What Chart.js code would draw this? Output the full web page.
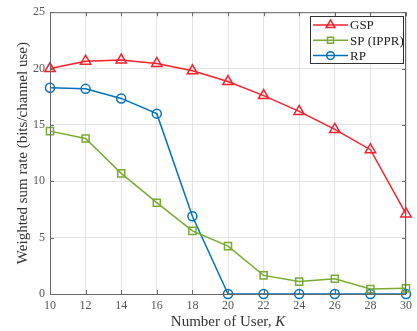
<!DOCTYPE html>
<html>
<head>
<meta charset="utf-8">
<script src="https://cdn.jsdelivr.net/npm/chart.js@4"></script>
<style>
  html, body { margin: 0; padding: 0; background: #fff; }
  #wrap { width: 417px; height: 331px; }
</style>
</head>
<body>
<div id="wrap"><canvas id="chart" width="417" height="331"></canvas></div>
<script>
var users = [10, 12, 14, 16, 18, 20, 22, 24, 26, 28, 30];
var gsp = [20.0, 20.65, 20.75, 20.45, 19.8, 18.85, 17.6, 16.2, 14.6, 12.8, 7.1];
var sp = [14.45, 13.8, 10.7, 8.1, 5.6, 4.25, 1.65, 1.1, 1.35, 0.45, 0.5];
var rp = [18.3, 18.2, 17.35, 16.0, 6.9, 0, 0, 0, 0, 0, 0];
var seriesNames = ['GSP', 'SP (IPPR)', 'RP'];
var xTicks = [10, 12, 14, 16, 18, 20, 22, 24, 26, 28, 30];
var yTicks = [0, 5, 10, 15, 20, 25];

var serif = "'Liberation Serif', 'DejaVu Serif', serif";

function pts(ys) {
  var out = [];
  for (var i = 0; i < users.length; i++) {
    out.push({ x: users[i], y: ys[i] });
  }
  return out;
}

// box, inward ticks, axis titles, legend
var decor = {
  id: 'decor',
  afterDatasetsDraw: function(chart) {
    var ctx = chart.ctx;
    var a = chart.chartArea;
    var xs = chart.scales.x;
    var ys = chart.scales.y;
    ctx.save();
    ctx.strokeStyle = '#666';
    ctx.lineWidth = 1;
    ctx.beginPath();
    ctx.rect(a.left + 0.5, a.top + 0.5, a.right - a.left - 1, a.bottom - a.top);
    ctx.stroke();
    ctx.beginPath();
    xTicks.forEach(function(v) {
      var px = Math.round(xs.getPixelForValue(v)) + 0.5;
      ctx.moveTo(px, a.bottom); ctx.lineTo(px, a.bottom - 4);
      ctx.moveTo(px, a.top); ctx.lineTo(px, a.top + 4);
    });
    yTicks.forEach(function(v) {
      var py = Math.round(ys.getPixelForValue(v)) + 0.5;
      ctx.moveTo(a.left, py); ctx.lineTo(a.left + 4, py);
      ctx.moveTo(a.right, py); ctx.lineTo(a.right - 4, py);
    });
    ctx.stroke();

    // x title with italic K
    ctx.fillStyle = '#333';
    ctx.textBaseline = 'alphabetic';
    var t1 = 'Number of User, ';
    ctx.font = '15px ' + serif;
    var w1 = ctx.measureText(t1).width;
    ctx.font = 'italic 15px ' + serif;
    var w2 = ctx.measureText('K').width;
    var cx = (a.left + a.right) / 2;
    var sx = cx - (w1 + w2) / 2;
    ctx.font = '15px ' + serif;
    ctx.textAlign = 'left';
    ctx.fillText(t1, sx, 326);
    ctx.font = 'italic 15px ' + serif;
    ctx.fillText('K', sx + w1, 326);

    // y title
    ctx.save();
    ctx.translate(27, (a.top + a.bottom) / 2);
    ctx.rotate(-Math.PI / 2);
    ctx.font = '15px ' + serif;
    ctx.textAlign = 'center';
    ctx.fillText('Weighted sum rate (bits/channel use)', 0, 0);
    ctx.restore();

    // legend
    var lx = 310, ly = 16, lw = 93, lh = 47;
    ctx.fillStyle = '#fff';
    ctx.fillRect(lx, ly, lw, lh);
    ctx.strokeStyle = '#333';
    ctx.lineWidth = 1;
    ctx.strokeRect(lx + 0.5, ly + 0.5, lw, lh);
    chart.data.datasets.forEach(function(ds, i) {
      var y = 25 + i * 15.3;
      ctx.strokeStyle = ds.borderColor;
      ctx.lineWidth = 1.5;
      ctx.beginPath();
      ctx.moveTo(313, y); ctx.lineTo(348, y);
      ctx.stroke();
      ctx.fillStyle = 'rgba(0,0,0,0)';
      Chart.helpers.drawPoint(ctx, {
        pointStyle: ds.pointStyle, radius: ds.pointRadius * 0.85, rotation: 0, borderWidth: 1.5
      }, 330.5, y);
      ctx.fillStyle = '#222';
      ctx.font = '13px ' + serif;
      ctx.textAlign = 'left';
      ctx.textBaseline = 'middle';
      ctx.fillText(ds.label, 350, y + 1);
    });
    ctx.restore();
  }
};

new Chart(document.getElementById('chart'), {
  type: 'line',
  data: {
    datasets: [{
      label: seriesNames[0],
      data: pts(gsp),
      borderColor: '#f5222d',
      backgroundColor: 'transparent',
      borderWidth: 1.5,
      pointStyle: 'triangle',
      pointRadius: 6,
      pointBorderWidth: 1.5,
      clip: false
    }, {
      label: seriesNames[1],
      data: pts(sp),
      borderColor: '#77ac30',
      backgroundColor: 'transparent',
      borderWidth: 1.5,
      pointStyle: 'rect',
      pointRadius: 5,
      pointBorderWidth: 1.5,
      clip: false
    }, {
      label: seriesNames[2],
      data: pts(rp),
      borderColor: '#0072bd',
      backgroundColor: 'transparent',
      borderWidth: 1.5,
      pointStyle: 'circle',
      pointRadius: 4.5,
      pointBorderWidth: 1.5,
      clip: false
    }]
  },
  options: {
    responsive: false,
    animation: false,
    layout: { padding: { top: 8, right: 5, left: 0, bottom: 0 } },
    plugins: { legend: { display: false }, tooltip: { enabled: false } },
    scales: {
      x: {
        type: 'linear',
        min: 10, max: 30,
        afterFit: function(s) { s.height = 37; },
        afterBuildTicks: function(s) { s.ticks = xTicks.map(function(v) { return { value: v }; }); },
        grid: { color: '#e3e3e3', drawTicks: false },
        border: { display: false },
        ticks: { padding: 5, color: '#555', font: { family: serif, size: 12 }, maxRotation: 0 }
      },
      y: {
        min: 0, max: 25,
        afterFit: function(s) { s.width = 50; },
        afterBuildTicks: function(s) { s.ticks = yTicks.map(function(v) { return { value: v }; }); },
        grid: { color: '#e3e3e3', drawTicks: false },
        border: { display: false },
        ticks: { padding: 5, color: '#555', font: { family: serif, size: 12 } }
      }
    }
  },
  plugins: [decor]
});
</script>
</body>
</html>
